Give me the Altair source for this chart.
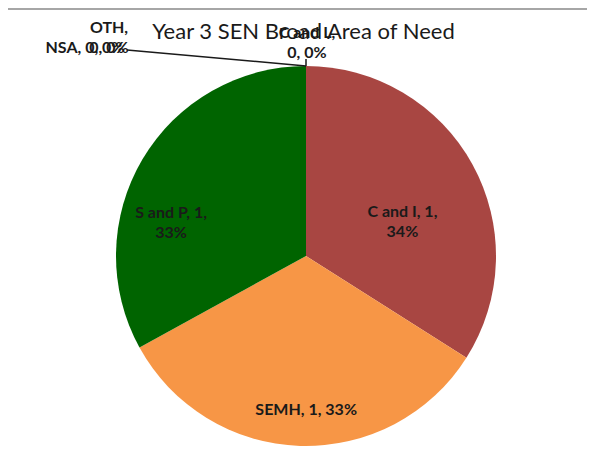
import altair as alt
import pandas as pd

categories = ["C and L", "C and I", "SEMH", "S and P", "NSA", "OTH"]
counts = [0, 1, 1, 1, 0, 0]
percents = [0, 34, 33, 33, 0, 0]
colors = ["#4F81BD", "#A84642", "#F79646", "#006400", "#8064A2", "#4BACC6"]
title_text = "Year 3 SEN Broad Area of Need"

breaks = {"C and L": ",\n", "C and I": ",\n", "SEMH": ", ", "S and P": ",\n", "NSA": ", ", "OTH": ",\n"}

df = pd.DataFrame({
    "cat": categories,
    "count": counts,
    "pct": percents,
    "idx": list(range(len(categories))),
})
df["label"] = [
    (f"{c}, {n}" + breaks[c] + f"{p}%") if c in ("C and I", "S and P") else
    (f"{c}" + breaks[c] + f"{n}, {p}%") if c in ("C and L", "OTH") else
    f"{c}, {n}, {p}%"
    for c, n, p in zip(categories, counts, percents)
]

CX, CY, R = 298, 248, 190
W, H = 579, 438
FONT = "Lato"
THETA_SCALE = alt.Scale(domain=[0, 100])

arc = alt.Chart(df).mark_arc(radius=R).encode(
    theta=alt.Theta("pct:Q", stack=True, scale=THETA_SCALE),
    order=alt.Order("idx:Q"),
    x=alt.value(CX), y=alt.value(CY),
    color=alt.Color("cat:N", scale=alt.Scale(domain=categories, range=colors), legend=None),
)

text_base = alt.Chart(df).transform_window(
    cum="sum(pct)", sort=[alt.SortField("idx")]
).transform_calculate(
    mid="datum.cum - datum.pct / 2"
)

def label_layer(cat, radius, dx=0, dy=0):
    return text_base.transform_filter(alt.datum.cat == cat).mark_text(
        radius=radius, dx=dx, dy=dy, font=FONT, fontSize=16, fontWeight="bold",
        color="#1a1a1a", lineBreak="\n", lineHeight=20, align="center", baseline="middle",
    ).encode(
        theta=alt.Theta("mid:Q", stack=None, scale=THETA_SCALE),
        x=alt.value(CX), y=alt.value(CY), text="label:N",
    )

labels = [
    label_layer("C and I", 110, 0, 9),
    label_layer("SEMH", 154, 5, 0),
    label_layer("S and P", 137, -17, 27),
    label_layer("C and L", 223, 1, 0),
    label_layer("NSA", 208, -221, 0),
    label_layer("OTH", 228, -197, 0),
]

leader1 = alt.Chart(df.head(1)).mark_rule(color="#1a1a1a", strokeWidth=1.5).encode(
    x=alt.value(CX), y=alt.value(CY - R - 7), y2=alt.value(CY - R)
)
leader2 = alt.Chart(df.head(1)).mark_rule(color="#1a1a1a", strokeWidth=1.5).encode(
    x=alt.value(119), y=alt.value(42), x2=alt.value(CX), y2=alt.value(CY - R)
)
border = alt.Chart(df.head(1)).mark_rule(color="#a6a6a6", strokeWidth=2).encode(
    x=alt.value(0), x2=alt.value(W), y=alt.value(1)
)

chart = alt.layer(arc, *labels, leader1, leader2, border).properties(
    width=W, height=H, padding=0, autosize="none",
    title=alt.TitleParams(title_text, font=FONT, fontSize=22, fontWeight="normal",
                          color="#1a1a1a", anchor="middle", dy=40, dx=6),
).configure_view(stroke=None)

chart.save("out.html", embed_options={"renderer": "svg", "actions": False})
